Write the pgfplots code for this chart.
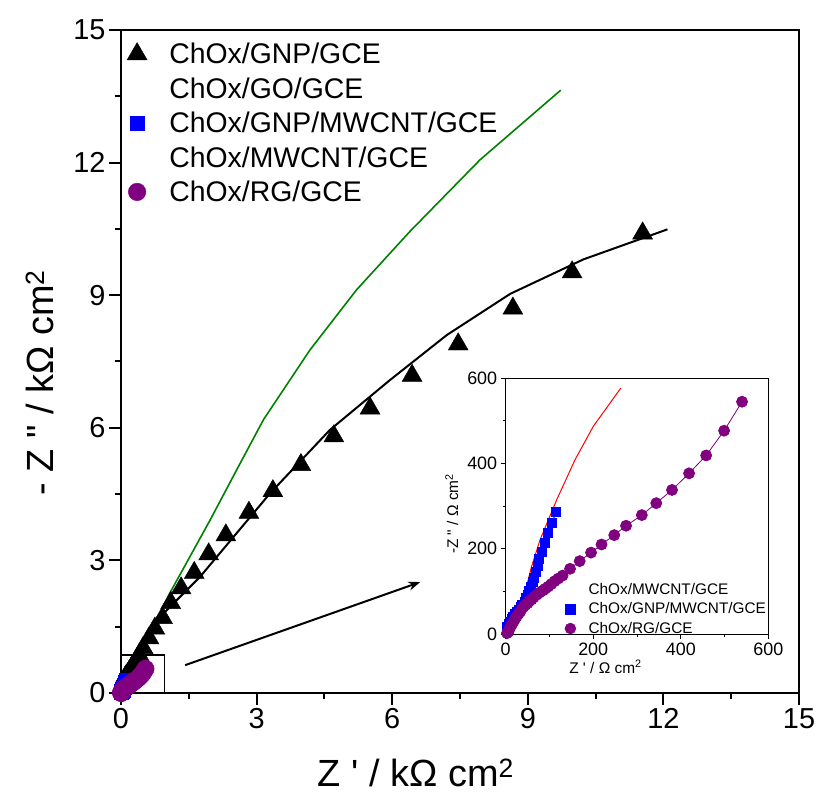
\documentclass[border=0pt]{standalone}
\usepackage{fontspec}
\setmainfont{Liberation Sans}
\usepackage{pgfplots}
\pgfplotsset{compat=1.18}
\usetikzlibrary{arrows.meta}
\definecolor{rgpurple}{RGB}{128,0,128}
\definecolor{gogreen}{RGB}{0,128,0}
\begin{document}
\begin{tikzpicture}[x=1bp,y=1bp]
\begin{axis}[
  at={(0bp,0bp)}, anchor=south west,
  scale only axis, width=678bp, height=663bp,
  xmin=0, xmax=15, ymin=0, ymax=15,
  xtick={0,3,...,15}, ytick={0,3,...,15},
  minor x tick num=1, minor y tick num=1,
  tick align=outside, tick pos=left,
  major tick length=12bp, minor tick length=6bp,
  axis line style={line width=2bp},
  every tick/.style={line width=2bp, black},
  tick label style={font=\fontsize{29}{29}\selectfont},
  /pgf/number format/assume math mode=true,
  xlabel={Z \textquotesingle\ / kΩ cm\textsuperscript{2}},
  ylabel={- Z \textquotedbl\ / kΩ cm\textsuperscript{2}},
  label style={font=\fontsize{38}{38}\selectfont},
  xlabel style={at={(axis description cs:0.435,-0.12)}, anchor=center},
  ylabel style={at={(axis description cs:-0.12,0.468)}, anchor=center},
  legend image code/.code={\path (0bp,0bp) (41bp,0bp); \draw[#1] plot coordinates {(13bp,0bp)};},
  legend style={at={(axis description cs:0.004,0.99)}, anchor=north west, draw=none, fill=none,
    font=\fontsize{28.5}{28.5}\selectfont, inner sep=0pt,
    nodes={inner ysep=6.2bp, inner xsep=4bp}},
  legend cell align=left,
  clip=true,
]
% ChOx/GNP/GCE markers
\addplot[only marks, mark=triangle*, mark size=11.5bp, black, forget plot] coordinates {
(0.09,0.35)(0.11,0.38)(0.14,0.42)(0.18,0.48)(0.22,0.55)(0.27,0.63)(0.33,0.73)(0.40,0.86)
(0.49,1.02)(0.62,1.24)(0.75,1.46)(0.92,1.70)(1.10,2.04)(1.33,2.37)(1.62,2.72)(1.94,3.14)
(2.32,3.57)(2.83,4.08)(3.36,4.57)(3.98,5.16)(4.71,5.81)(5.51,6.44)(6.44,7.18)(7.46,7.89)
(8.67,8.70)(9.98,9.52)(11.54,10.40)};
% GNP fit line
\addplot[black, line width=2bp, forget plot] coordinates {
(0.03,0.28)(0.3,0.75)(0.94,1.80)(1.75,2.63)(3.30,4.52)(4.62,5.95)(5.95,7.08)(7.21,8.10)
(8.61,9.03)(10.23,9.81)(12.09,10.49)};
% ChOx/GO/GCE
\addplot[gogreen, line width=1.6bp, forget plot] coordinates {
(0.22,0.40)(0.35,0.67)(0.64,1.35)(1.08,2.26)(1.97,3.91)(2.56,5.05)(3.15,6.18)(4.18,7.76)
(5.21,9.12)(6.39,10.44)(7.94,12.06)(9.73,13.64)};
% ChOx/GNP/MWCNT/GCE
\addplot[only marks, mark=square*, mark size=7bp, blue, forget plot] coordinates {
(0.002,0.008)(0.004,0.017)(0.007,0.023)(0.010,0.029)(0.014,0.035)(0.0175,0.041)(0.021,0.046)
(0.025,0.051)(0.030,0.057)(0.034,0.063)(0.038,0.069)(0.043,0.076)(0.047,0.084)(0.050,0.092)
(0.054,0.101)(0.058,0.111)(0.062,0.121)(0.0655,0.132)(0.069,0.146)(0.073,0.160)(0.077,0.176)
(0.082,0.193)(0.089,0.213)(0.0975,0.236)(0.106,0.261)(0.115,0.287)};
% ChOx/MWCNT/GCE
\addplot[red, line width=1bp, forget plot] coordinates {
(0.015,0.005)(0.025,0.025)(0.030,0.045)(0.040,0.080)(0.059,0.158)(0.0785,0.221)(0.1166,0.315)
(0.158,0.408)(0.200,0.487)(0.263,0.577)};
% ChOx/RG/GCE
\addplot[only marks, mark=*, mark size=8.8bp, rgpurple, forget plot] coordinates {
(0.003,0.002)(0.006,0.005)(0.008,0.010)(0.011,0.017)(0.014,0.022)(0.018,0.029)(0.021,0.035)
(0.025,0.041)(0.029,0.047)(0.033,0.052)(0.036,0.058)(0.040,0.063)(0.045,0.068)(0.050,0.072)
(0.054,0.077)(0.059,0.081)(0.064,0.086)(0.071,0.092)(0.077,0.097)(0.085,0.102)(0.090,0.106)
(0.097,0.111)(0.104,0.117)(0.112,0.124)(0.120,0.130)(0.130,0.137)(0.147,0.153)(0.169,0.171)
(0.195,0.191)(0.219,0.210)(0.248,0.232)(0.275,0.254)(0.311,0.279)(0.344,0.307)(0.380,0.338)
(0.419,0.377)(0.458,0.419)(0.499,0.477)(0.540,0.545)};
% legend
\addlegendimage{/tikz/only marks, mark=triangle*, mark size=11.5bp, black}
\addlegendentry{ChOx/GNP/GCE}
\addlegendimage{draw=none, mark=none}
\addlegendentry{ChOx/GO/GCE}
\addlegendimage{/tikz/only marks, mark=square*, mark size=7bp, blue}
\addlegendentry{ChOx/GNP/MWCNT/GCE}
\addlegendimage{draw=none, mark=none}
\addlegendentry{ChOx/MWCNT/GCE}
\addlegendimage{/tikz/only marks, mark=*, mark size=8.8bp, rgpurple}
\addlegendentry{ChOx/RG/GCE}
% zoom box and arrow
\draw[black, line width=1.2bp] (axis cs:0,0) rectangle (axis cs:0.97,0.86);
\draw[black, line width=2bp, -{Stealth[length=12bp,width=9bp]}] (axis cs:1.42,0.63) -- (axis cs:6.62,2.51);
\end{axis}

\begin{axis}[
  at={(384.7bp,59bp)}, anchor=south west,
  scale only axis, width=262.6bp, height=255.7bp,
  axis background/.style={fill=white},
  xmin=0, xmax=600, ymin=0, ymax=600,
  xtick={0,200,400,600}, ytick={0,200,400,600},
  minor x tick num=1, minor y tick num=1,
  tick align=outside, tick pos=left,
  major tick length=5bp, minor tick length=3bp,
  axis line style={line width=1bp},
  every tick/.style={line width=1bp, black},
  tick label style={font=\fontsize{18}{18}\selectfont},
  /pgf/number format/assume math mode=true,
  xlabel={Z \textquotesingle\ / Ω cm\textsuperscript{2}},
  ylabel={-Z \textquotedbl\ / Ω cm\textsuperscript{2}},
  label style={font=\fontsize{15.5}{15.5}\selectfont},
  xlabel style={at={(axis description cs:0.38,-0.128)}, anchor=center},
  ylabel style={at={(axis description cs:-0.205,0.47)}, anchor=center},
  legend image code/.code={\path (0bp,0bp) (21bp,0bp); \draw[#1] plot coordinates {(6bp,0bp)};},
  legend style={at={(axis description cs:0.222,0.212)}, anchor=north west, draw=none, fill=none,
    font=\fontsize{15.4}{15.4}\selectfont, inner sep=0pt,
    nodes={inner ysep=3.4bp, inner xsep=3bp}},
  legend cell align=left,
]
\addplot[blue, line width=1bp, mark=square*, mark size=4.5bp, forget plot] coordinates {
(2,8)(4,17)(7,23)(10,29)(14,35)(17.5,41)(21,46)(25,51)(30,57)(34,63)(38,69)(43,76)(47,84)
(50,92)(54,101)(58,111)(62,121)(65.5,132)(69,146)(73,160)(77,176)(82,193)(89,213)(97.5,236)
(106,261)(115,287)};
\addplot[red, line width=1bp, forget plot] coordinates {
(15,5)(25,25)(30,45)(40,80)(59,158)(78.5,221)(116.6,315)(158,408)(200,487)(263,577)};
\addplot[rgpurple, line width=0.8bp, mark=*, mark size=5.5bp, forget plot] coordinates {
(3,2)(6,5)(8,10)(11,17)(14,22)(18,29)(21,35)(25,41)(29,47)(33,52)(36,58)(40,63)(45,68)(50,72)
(54,77)(59,81)(64,86)(71,92)(77,97)(85,102)(90,106)(97,111)(104,117)(112,124)(120,130)(130,137)
(147,153)(169,171)(195,191)(219,210)(248,232)(275,254)(311,279)(344,307)(380,338)(419,377)
(458,419)(499,477)(540,545)};
\addlegendimage{draw=none, mark=none}
\addlegendentry{ChOx/MWCNT/GCE}
\addlegendimage{/tikz/only marks, mark=square*, mark size=5bp, blue}
\addlegendentry{ChOx/GNP/MWCNT/GCE}
\addlegendimage{/tikz/only marks, mark=*, mark size=5.5bp, rgpurple}
\addlegendentry{ChOx/RG/GCE}
\end{axis}
\pgfresetboundingbox
\useasboundingbox (-121bp,-101bp) rectangle (698bp,693bp);
\end{tikzpicture}
\end{document}
